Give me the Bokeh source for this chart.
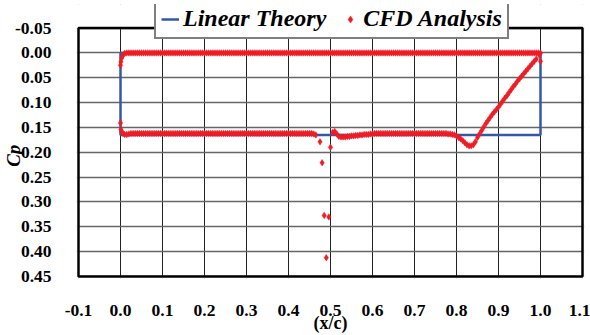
from bokeh.plotting import figure
from bokeh.models import (Range1d, FixedTicker, NumeralTickFormatter, Legend, LegendItem,
                          ColumnDataSource, BoxAnnotation)
from bokeh.embed import file_html
from bokeh.resources import INLINE

# Linear theory (rectangle: upper Cp = 0, lower Cp = 0.165)
lt_x = [0.0, 0.0, 1.0, 1.0, 0.0]
lt_cp = [0.0, 0.165, 0.165, 0.0, 0.0]

# CFD upper surface
cfd_upper_x = [
    0.000, 0.001, 0.003, 0.006, 0.010, 0.015, 0.020,
    0.025, 0.030, 0.035, 0.040, 0.045, 0.050, 0.055, 0.060, 0.065, 0.070,
    0.075, 0.080, 0.085, 0.090, 0.095, 0.100, 0.105, 0.110, 0.115, 0.120,
    0.125, 0.130, 0.135, 0.140, 0.145, 0.150, 0.155, 0.160, 0.165, 0.170,
    0.175, 0.180, 0.185, 0.190, 0.195, 0.200, 0.205, 0.210, 0.215, 0.220,
    0.225, 0.230, 0.235, 0.240, 0.245, 0.250, 0.255, 0.260, 0.265, 0.270,
    0.275, 0.280, 0.285, 0.290, 0.295, 0.300, 0.305, 0.310, 0.315, 0.320,
    0.325, 0.330, 0.335, 0.340, 0.345, 0.350, 0.355, 0.360, 0.365, 0.370,
    0.375, 0.380, 0.385, 0.390, 0.395, 0.400, 0.405, 0.410, 0.415, 0.420,
    0.425, 0.430, 0.435, 0.440, 0.445, 0.450, 0.455, 0.460, 0.465, 0.470,
    0.475, 0.480, 0.485, 0.490, 0.495, 0.500, 0.505, 0.510, 0.515, 0.520,
    0.525, 0.530, 0.535, 0.540, 0.545, 0.550, 0.555, 0.560, 0.565, 0.570,
    0.575, 0.580, 0.585, 0.590, 0.595, 0.600, 0.605, 0.610, 0.615, 0.620,
    0.625, 0.630, 0.635, 0.640, 0.645, 0.650, 0.655, 0.660, 0.665, 0.670,
    0.675, 0.680, 0.685, 0.690, 0.695, 0.700, 0.705, 0.710, 0.715, 0.720,
    0.725, 0.730, 0.735, 0.740, 0.745, 0.750, 0.755, 0.760, 0.765, 0.770,
    0.775, 0.780, 0.785, 0.790, 0.795, 0.800, 0.805, 0.810, 0.815, 0.820,
    0.825, 0.830, 0.835, 0.840, 0.845, 0.850, 0.855, 0.860, 0.865, 0.870,
    0.875, 0.880, 0.885, 0.890, 0.895, 0.900, 0.905, 0.910, 0.915, 0.920,
    0.925, 0.930, 0.935, 0.940, 0.945, 0.950, 0.955, 0.960, 0.965, 0.970,
    0.975, 0.980, 0.985, 0.990, 0.995, 1.000,
]
cfd_upper_cp = [
    0.025, 0.018, 0.010, 0.004, 0.001, 0.000, 0.000,
    0.000, 0.000, 0.000, 0.000, 0.000, 0.000, 0.000, 0.000, 0.000, 0.000,
    0.000, 0.000, 0.000, 0.000, 0.000, 0.000, 0.000, 0.000, 0.000, 0.000,
    0.000, 0.000, 0.000, 0.000, 0.000, 0.000, 0.000, 0.000, 0.000, 0.000,
    0.000, 0.000, 0.000, 0.000, 0.000, 0.000, 0.000, 0.000, 0.000, 0.000,
    0.000, 0.000, 0.000, 0.000, 0.000, 0.000, 0.000, 0.000, 0.000, 0.000,
    0.000, 0.000, 0.000, 0.000, 0.000, 0.000, 0.000, 0.000, 0.000, 0.000,
    0.000, 0.000, 0.000, 0.000, 0.000, 0.000, 0.000, 0.000, 0.000, 0.000,
    0.000, 0.000, 0.000, 0.000, 0.000, 0.000, 0.000, 0.000, 0.000, 0.000,
    0.000, 0.000, 0.000, 0.000, 0.000, 0.000, 0.000, 0.000, 0.000, 0.000,
    0.000, 0.000, 0.000, 0.000, 0.000, 0.000, 0.000, 0.000, 0.000, 0.000,
    0.000, 0.000, 0.000, 0.000, 0.000, 0.000, 0.000, 0.000, 0.000, 0.000,
    0.000, 0.000, 0.000, 0.000, 0.000, 0.000, 0.000, 0.000, 0.000, 0.000,
    0.000, 0.000, 0.000, 0.000, 0.000, 0.000, 0.000, 0.000, 0.000, 0.000,
    0.000, 0.000, 0.000, 0.000, 0.000, 0.000, 0.000, 0.000, 0.000, 0.000,
    0.000, 0.000, 0.000, 0.000, 0.000, 0.000, 0.000, 0.000, 0.000, 0.000,
    0.000, 0.000, 0.000, 0.000, 0.000, 0.000, 0.000, 0.000, 0.000, 0.000,
    0.000, 0.000, 0.000, 0.000, 0.000, 0.000, 0.000, 0.000, 0.000, 0.000,
    0.000, 0.000, 0.000, 0.000, 0.000, 0.000, 0.000, 0.000, 0.000, 0.000,
    0.000, 0.000, 0.000, 0.000, 0.000, 0.000, 0.000, 0.000, 0.000, 0.000,
    0.000, 0.000, 0.000, 0.000, 0.000, 0.000,
]

# CFD lower surface
cfd_lower_x = [
    0.000, 0.001, 0.003, 0.006, 0.010, 0.015, 0.020,
    0.025, 0.030, 0.035, 0.040, 0.045, 0.050, 0.055, 0.060, 0.065, 0.070,
    0.075, 0.080, 0.085, 0.090, 0.095, 0.100, 0.105, 0.110, 0.115, 0.120,
    0.125, 0.130, 0.135, 0.140, 0.145, 0.150, 0.155, 0.160, 0.165, 0.170,
    0.175, 0.180, 0.185, 0.190, 0.195, 0.200, 0.205, 0.210, 0.215, 0.220,
    0.225, 0.230, 0.235, 0.240, 0.245, 0.250, 0.255, 0.260, 0.265, 0.270,
    0.275, 0.280, 0.285, 0.290, 0.295, 0.300, 0.305, 0.310, 0.315, 0.320,
    0.325, 0.330, 0.335, 0.340, 0.345, 0.350, 0.355, 0.360, 0.365, 0.370,
    0.375, 0.380, 0.385, 0.390, 0.395, 0.400, 0.405, 0.410, 0.415, 0.420,
    0.425, 0.430, 0.435, 0.440, 0.445, 0.450, 0.455, 0.460, 0.465,
    0.475, 0.480, 0.485, 0.490, 0.496, 0.500,
    0.505, 0.510, 0.515, 0.520, 0.525, 0.530, 0.535, 0.540, 0.545, 0.550,
    0.555, 0.560, 0.565, 0.570, 0.575, 0.580, 0.585, 0.590, 0.595, 0.600,
    0.605, 0.610, 0.615, 0.620, 0.625, 0.630, 0.635, 0.640, 0.645, 0.650,
    0.655, 0.660, 0.665, 0.670, 0.675, 0.680, 0.685, 0.690, 0.695, 0.700,
    0.705, 0.710, 0.715, 0.720, 0.725, 0.730, 0.735, 0.740, 0.745, 0.750,
    0.755, 0.760, 0.765, 0.770, 0.775, 0.780, 0.785,
    0.790, 0.795, 0.800, 0.805, 0.810, 0.815, 0.820, 0.825, 0.830, 0.835,
    0.840, 0.845, 0.850, 0.855, 0.860, 0.865, 0.870, 0.875, 0.880, 0.885,
    0.890, 0.895, 0.900, 0.905, 0.910, 0.915, 0.920, 0.925, 0.930, 0.935,
    0.940, 0.945, 0.950, 0.955, 0.960, 0.965, 0.970, 0.975, 0.980, 0.985,
    0.990, 0.997, 1.000,
]
cfd_lower_cp = [
    0.141, 0.154, 0.159, 0.162, 0.164, 0.164, 0.163,
    0.162, 0.162, 0.162, 0.162, 0.162, 0.162, 0.162, 0.162, 0.162, 0.162,
    0.162, 0.162, 0.162, 0.162, 0.162, 0.162, 0.162, 0.162, 0.162, 0.162,
    0.162, 0.162, 0.162, 0.162, 0.162, 0.162, 0.162, 0.162, 0.162, 0.162,
    0.162, 0.162, 0.162, 0.162, 0.162, 0.162, 0.162, 0.162, 0.162, 0.162,
    0.162, 0.162, 0.162, 0.162, 0.162, 0.162, 0.162, 0.162, 0.162, 0.162,
    0.162, 0.162, 0.162, 0.162, 0.162, 0.162, 0.162, 0.162, 0.162, 0.162,
    0.162, 0.162, 0.162, 0.162, 0.162, 0.162, 0.162, 0.162, 0.162, 0.162,
    0.162, 0.162, 0.162, 0.162, 0.162, 0.162, 0.162, 0.162, 0.162, 0.162,
    0.162, 0.162, 0.162, 0.162, 0.162, 0.162, 0.162, 0.163, 0.165,
    0.179, 0.221, 0.327, 0.412, 0.330, 0.190,
    0.160, 0.158, 0.163, 0.168, 0.169, 0.169, 0.169, 0.168, 0.168, 0.167,
    0.167, 0.166, 0.166, 0.165, 0.165, 0.164, 0.164, 0.164, 0.163, 0.163,
    0.162, 0.162, 0.162, 0.162, 0.162, 0.162, 0.162, 0.162, 0.162, 0.162,
    0.162, 0.162, 0.162, 0.162, 0.162, 0.162, 0.162, 0.162, 0.162, 0.162,
    0.162, 0.162, 0.162, 0.162, 0.162, 0.162, 0.162, 0.162, 0.162, 0.162,
    0.162, 0.162, 0.162, 0.162, 0.162, 0.163, 0.163,
    0.164, 0.165, 0.167, 0.170, 0.173, 0.177, 0.181, 0.185, 0.187, 0.187,
    0.185, 0.179, 0.170, 0.163, 0.156, 0.149, 0.142, 0.136, 0.130, 0.124,
    0.119, 0.114, 0.109, 0.103, 0.097, 0.091, 0.086, 0.080, 0.074, 0.068,
    0.063, 0.057, 0.052, 0.047, 0.042, 0.037, 0.032, 0.027, 0.022, 0.017,
    0.012, 0.004, 0.017,
]

x_ticks = [-0.1, 0.0, 0.1, 0.2, 0.3, 0.4, 0.5, 0.6, 0.7, 0.8, 0.9, 1.0, 1.1]
y_ticks = [-0.05, 0.0, 0.05, 0.10, 0.15, 0.20, 0.25, 0.30, 0.35, 0.40, 0.45]

FONT = "Liberation Serif"
RED = "#EE1C25"
BLUE = "#3457A8"

# Axis box (the drawn chart frame) and pixel layout
X_LO, X_HI = x_ticks[0], x_ticks[-1]
Y_LO, Y_HI = y_ticks[0], y_ticks[-1]
W, H = 590, 335
BOX_L, BOX_R, BOX_T, BOX_B = 78, 582, 28, 281   # pixel edges of the drawn box
PAD = 2                                           # frame extends beyond box
FRAME_T = 4                                       # frame extends up for the legend
px_x = (BOX_R - BOX_L) / (X_HI - X_LO)
px_y = (BOX_B - BOX_T) / (Y_HI - Y_LO)

x_range = Range1d(X_LO - PAD / px_x, X_HI + PAD / px_x)
y_range = Range1d(Y_HI + PAD / px_y, Y_LO - (BOX_T - FRAME_T) / px_y)

p = figure(width=W, height=H, output_backend="svg", toolbar_location=None,
           x_range=x_range, y_range=y_range,
           min_border_left=BOX_L - PAD, min_border_right=W - BOX_R - PAD,
           min_border_top=FRAME_T, min_border_bottom=H - BOX_B - PAD)

lt_r = p.line(lt_x, lt_cp, line_color=BLUE, line_width=2.5)

cfd_x = cfd_upper_x + cfd_lower_x
cfd_cp = cfd_upper_cp + cfd_lower_cp
src = ColumnDataSource(dict(x=cfd_x, cp=cfd_cp))
cfd_r = p.scatter("x", "cp", source=src, marker="diamond", size=6.5,
                  fill_color=RED, line_color=RED, line_width=0.5)

p.xaxis.ticker = FixedTicker(ticks=x_ticks)
p.yaxis.ticker = FixedTicker(ticks=y_ticks)
p.xaxis.formatter = NumeralTickFormatter(format="0.0")
p.yaxis.formatter = NumeralTickFormatter(format="0.00")

for ax in (p.xaxis[0], p.yaxis[0]):
    ax.major_label_text_font = FONT
    ax.major_label_text_font_style = "bold"
    ax.major_label_text_font_size = "17.5px"
    ax.major_label_text_color = "black"
    ax.major_tick_line_color = None
    ax.minor_tick_line_color = None
    ax.axis_line_color = None
    ax.axis_label_text_font = FONT
    ax.axis_label_text_color = "black"

p.xaxis.major_label_standoff = 20
p.yaxis.major_label_standoff = 19

p.xaxis.axis_label = "(x/c)"
p.xaxis.axis_label_text_font_style = "bold"
p.xaxis.axis_label_text_font_size = "18px"
p.xaxis.axis_label_standoff = -6

# trailing no-break spaces shift the visible label down to the box's centre
p.yaxis.axis_label = "Cp" + "\u00a0" * 6
p.yaxis.axis_label_text_font_style = "bold italic"
p.yaxis.axis_label_text_font_size = "19px"
p.yaxis.axis_label_standoff = -12

p.xgrid.ticker = FixedTicker(ticks=x_ticks)
p.ygrid.ticker = FixedTicker(ticks=y_ticks)
p.xgrid.grid_line_color = "#222222"
p.ygrid.grid_line_color = "#666666"
p.xgrid.grid_line_width = 1
p.ygrid.grid_line_width = 1.3

p.outline_line_color = None
p.background_fill_color = "white"
p.border_fill_color = "white"

# white masks outside the drawn box (hide grid line stubs)
FAR = 10.0
for kw in (dict(bottom=Y_LO, top=Y_LO - FAR), dict(top=Y_HI, bottom=Y_HI + FAR),
           dict(right=X_LO, left=X_LO - FAR), dict(left=X_HI, right=X_HI + FAR)):
    p.add_layout(BoxAnnotation(fill_color="white", fill_alpha=1.0, line_color=None,
                               level="underlay", **kw))

# the chart box border
p.add_layout(BoxAnnotation(left=X_LO, right=X_HI, top=Y_LO, bottom=Y_HI,
                           fill_alpha=0.0, line_color="black", line_width=2.5,
                           line_alpha=1.0, level="annotation"))

LEG_L, LEG_B = 154, 44
legend = Legend(items=[LegendItem(label="Linear Theory", renderers=[lt_r]),
                       LegendItem(label="CFD Analysis", renderers=[cfd_r])],
                orientation="horizontal",
                location=(LEG_L - (BOX_L - PAD), (BOX_B + PAD) - LEG_B))
legend.label_text_font = FONT
legend.label_text_font_style = "bold italic"
legend.label_text_font_size = "24px"
legend.label_text_color = "black"
legend.border_line_color = "black"
legend.border_line_width = 2.5
legend.background_fill_color = "white"
legend.background_fill_alpha = 1.0
legend.glyph_width = 18
legend.glyph_height = 20
legend.label_standoff = 4
legend.spacing = 15
legend.padding = 5
legend.margin = 0
p.add_layout(legend)

open("out.html", "w").write(file_html(p, INLINE))
